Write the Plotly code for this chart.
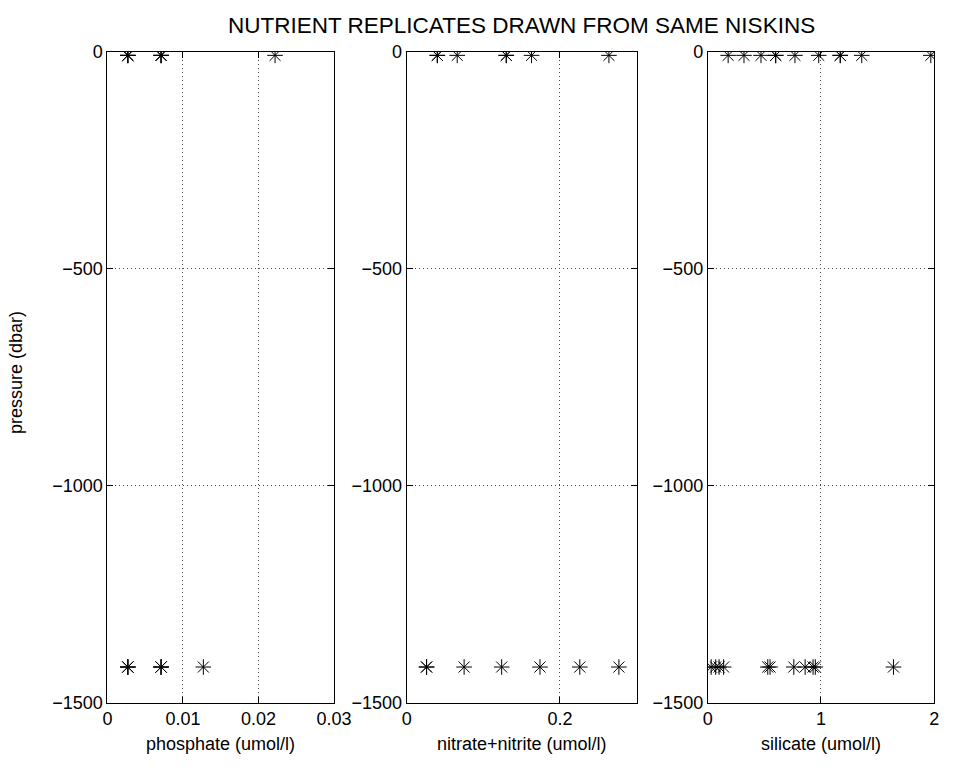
import plotly.graph_objects as go

# ---- data ----
pres_surface = -8
pres_deep = -1418

phosphate_surface = [0.0027, 0.0027, 0.0027, 0.0071, 0.0071, 0.0071, 0.0222]
phosphate_deep = [0.0027, 0.0027, 0.0027, 0.0071, 0.0071, 0.0071, 0.0127]

nitrate_surface = [0.040, 0.040, 0.066, 0.130, 0.130, 0.163, 0.264]
nitrate_deep = [0.026, 0.026, 0.075, 0.124, 0.174, 0.226, 0.277]

silicate_surface = [0.18, 0.32, 0.47, 0.60, 0.60, 0.77, 0.98, 1.17, 1.17, 1.36, 1.97]
silicate_deep = [0.03, 0.07, 0.10, 0.14, 0.53, 0.55, 0.76, 0.86, 0.93, 0.95, 1.64]

x_labels = ["phosphate (umol/l)", "nitrate+nitrite (umol/l)", "silicate (umol/l)"]
x_ranges = [[0, 0.03], [0, 0.3], [0, 2]]
x_ticks = [[0, 0.01, 0.02, 0.03], [0, 0.2], [0, 1, 2]]
x_ticktext = [["0", "0.01", "0.02", "0.03"], ["0", "0.2"], ["0", "1", "2"]]
y_ticks = [0, -500, -1000, -1500]
y_ticktext = ["0", "\u2212500", "\u22121000", "\u22121500"]
title_text = "NUTRIENT REPLICATES DRAWN FROM SAME NISKINS"
y_label = "pressure (dbar)"

W, H = 961, 773
panels_px = [(105, 337), (411.5, 647), (720, 952)]
top_px, bot_px = 43, 711

FONT = "Liberation Sans, Arial, Helvetica, sans-serif"

fig = go.Figure()
series = [
    (phosphate_surface, phosphate_deep),
    (nitrate_surface, nitrate_deep),
    (silicate_surface, silicate_deep),
]
for i, (surf, deep) in enumerate(series):
    xs = list(surf) + list(deep)
    ys = [pres_surface] * len(surf) + [pres_deep] * len(deep)
    sfx = "" if i == 0 else str(i + 1)
    fig.add_trace(go.Scatter(
        x=xs, y=ys, mode="markers",
        xaxis="x" + sfx, yaxis="y" + sfx,
        marker=dict(symbol="asterisk-open", size=13,
                    line=dict(color="black", width=1), color="black"),
        showlegend=False, hoverinfo="skip",
    ))

layout = dict(
    width=W, height=H,
    margin=dict(l=0, r=0, t=0, b=0),
    paper_bgcolor="white", plot_bgcolor="white",
    font=dict(family=FONT, size=18, color="black"),
    showlegend=False,
)
ydom = [1 - bot_px / H, 1 - top_px / H]
common_axis = dict(
    showline=True, linecolor="black", linewidth=1, mirror="ticks",
    ticks="inside", ticklen=6, tickcolor="black", tickwidth=1,
    showgrid=True, gridcolor="#444", gridwidth=1, griddash="1px,3px",
    zeroline=False, tickfont=dict(family=FONT, size=18, color="black"),
)
for i in range(3):
    sfx = "" if i == 0 else str(i + 1)
    l, r = panels_px[i]
    layout["xaxis" + sfx] = dict(
        common_axis, domain=[l / W, r / W], range=x_ranges[i],
        tickmode="array", tickvals=x_ticks[i], ticktext=x_ticktext[i],
        anchor="y" + sfx,
    )
    layout["yaxis" + sfx] = dict(
        common_axis, domain=ydom, range=[-1500, 0],
        tickmode="array", tickvals=y_ticks, ticktext=y_ticktext,
        anchor="x" + sfx,
    )

annotations = []
for i in range(3):
    l, r = panels_px[i]
    annotations.append(dict(
        text=x_labels[i], x=(l + r) / 2 / W, y=1 - 754 / H,
        xref="paper", yref="paper", xanchor="center", yanchor="middle",
        showarrow=False, font=dict(family=FONT, size=18, color="black"),
    ))
annotations.append(dict(
    text=title_text, x=(panels_px[1][0] + panels_px[1][1]) / 2 / W, y=1 - 16 / H,
    xref="paper", yref="paper", xanchor="center", yanchor="middle",
    showarrow=False, font=dict(family=FONT, size=22.5, color="black"),
))
annotations.append(dict(
    text=y_label, x=12 / W, y=1 - 372 / H, textangle=-90,
    xref="paper", yref="paper", xanchor="center", yanchor="middle",
    showarrow=False, font=dict(family=FONT, size=18, color="black"),
))
layout["annotations"] = annotations
fig.update_layout(**layout)
fig.write_html("out.html")
